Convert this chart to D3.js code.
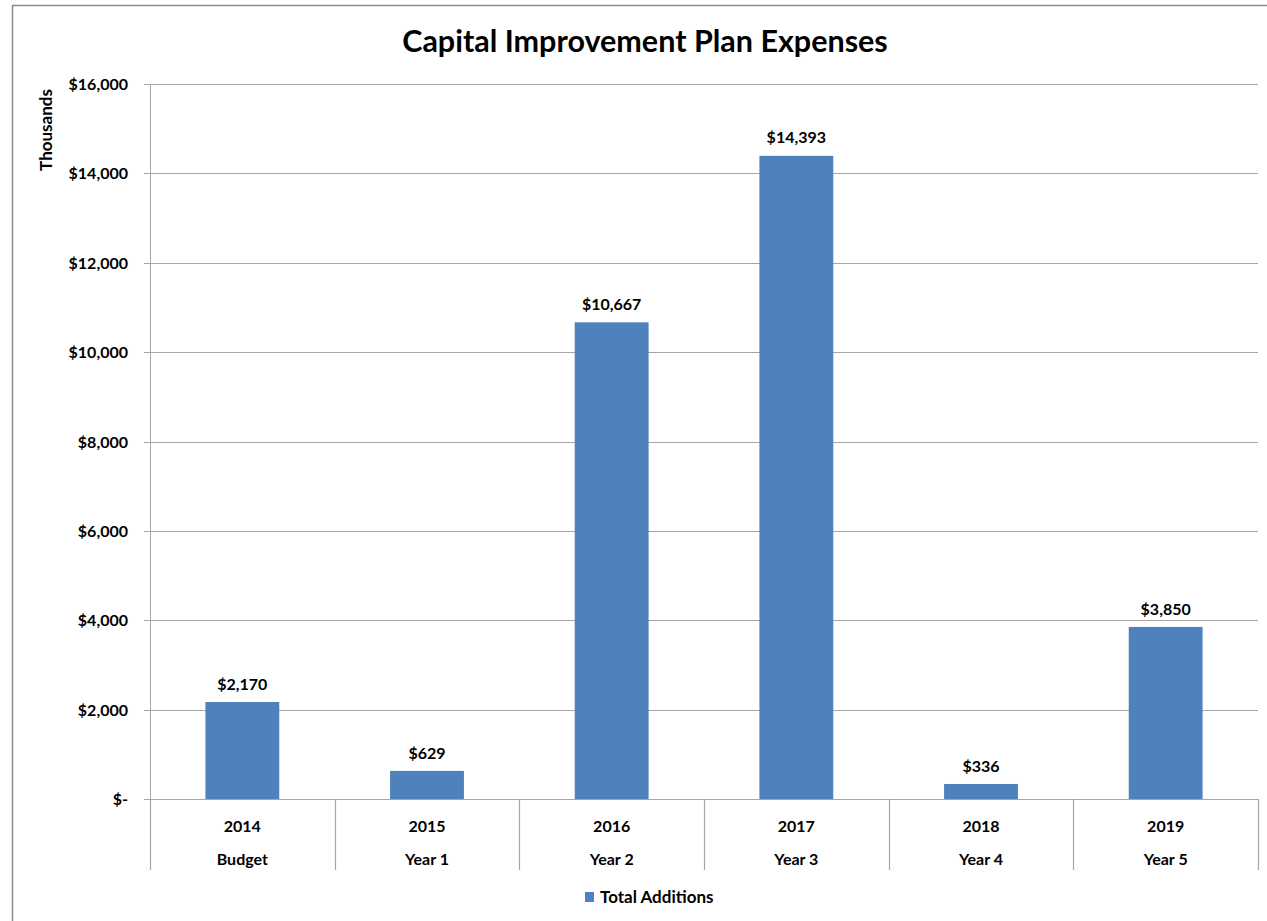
<!DOCTYPE html>
<html>
<head>
<meta charset="utf-8">
<script src="https://cdn.jsdelivr.net/npm/d3@7"></script>
<style>
  html, body { margin: 0; padding: 0; background: #fff; }
  svg { display: block; }
  text { font-family: Lato, "Open Sans", sans-serif; fill: #000; }
</style>
</head>
<body>
<svg id="chart" width="1267" height="921"></svg>
<script>
// Capital plan data (thousands of dollars)
const years = ["2014", "2015", "2016", "2017", "2018", "2019"];
const phases = ["Budget", "Year 1", "Year 2", "Year 3", "Year 4", "Year 5"];
const totalAdditions = [2170, 629, 10667, 14393, 336, 3850];
const yTicks = [0, 2000, 4000, 6000, 8000, 10000, 12000, 14000, 16000];
const seriesName = "Total Additions";
const chartTitle = "Capital Improvement Plan Expenses";
const axisTitle = "Thousands";

const svg = d3.select("#chart");
const barColor = "#4f81bd";
const gridColor = "#a6a6a6";
const labelSize = 16;

const plot = { left: 150, right: 1258, top: 84, bottom: 799 };

const x = d3.scaleBand()
  .domain(years)
  .range([plot.left, plot.right])
  .paddingInner(0.6)
  .paddingOuter(0.3);

const xCat = d3.scaleBand().domain(years).range([plot.left, plot.right]);

const y = d3.scaleLinear().domain([0, 16000]).range([plot.bottom, plot.top]);

const money = d3.format("$,");
const tickFmt = v => v === 0 ? "$-" : money(v);

// outer chart frame
svg.append("path")
  .attr("d", "M12.5,921 L12.5,5.5 L1267,5.5")
  .attr("fill", "none")
  .attr("stroke", "#8c8c8c")
  .attr("stroke-width", 1.5);

// title
svg.append("text")
  .attr("x", 645).attr("y", 52)
  .attr("text-anchor", "middle")
  .attr("font-size", 30.5)
  .attr("font-weight", 700)
  .text(chartTitle);

// horizontal gridlines
svg.append("g")
  .selectAll("line")
  .data(yTicks)
  .join("line")
  .attr("x1", plot.left).attr("x2", plot.right)
  .attr("y1", d => Math.round(y(d)) + 0.5).attr("y2", d => Math.round(y(d)) + 0.5)
  .attr("stroke", gridColor)
  .attr("stroke-width", 1.2);

// y axis with tick marks and labels
const yAxis = d3.axisLeft(y)
  .tickValues(yTicks)
  .tickFormat(tickFmt)
  .tickSize(6)
  .tickPadding(16);

const gy = svg.append("g")
  .attr("transform", `translate(${plot.left},0)`)
  .call(yAxis);
gy.select(".domain").attr("stroke", gridColor);
gy.selectAll(".tick line").attr("stroke", gridColor);
gy.selectAll(".tick").attr("transform", d => `translate(0,${Math.round(y(d)) + 0.5})`);
gy.selectAll(".tick text")
  .attr("font-size", labelSize)
  .attr("font-weight", 700)
  .attr("font-family", "Lato, sans-serif")
  .attr("fill", "#000");

// y axis title
svg.append("text")
  .attr("transform", "translate(52,130) rotate(-90)")
  .attr("text-anchor", "middle")
  .attr("font-size", 17)
  .attr("font-weight", 700)
  .text(axisTitle);

// category separators below the axis
const seps = [plot.left].concat(years.map(d => xCat(d) + xCat.bandwidth()));
svg.append("g")
  .selectAll("line")
  .data(seps)
  .join("line")
  .attr("x1", d => Math.round(d) + 0.5).attr("x2", d => Math.round(d) + 0.5)
  .attr("y1", plot.bottom).attr("y2", 870)
  .attr("stroke", gridColor)
  .attr("stroke-width", 1.2);

// bars
svg.append("g")
  .selectAll("rect")
  .data(totalAdditions)
  .join("rect")
  .attr("x", (d, i) => x(years[i]))
  .attr("width", x.bandwidth())
  .attr("y", d => y(d))
  .attr("height", d => y(0) - y(d))
  .attr("fill", barColor);

// value labels with white backing
const labels = svg.append("g")
  .selectAll("g")
  .data(totalAdditions)
  .join("g")
  .attr("transform", (d, i) => `translate(${x(years[i]) + x.bandwidth() / 2},${y(d) - 18})`);

labels.append("text")
  .attr("text-anchor", "middle")
  .attr("dy", "0.35em")
  .attr("font-size", labelSize)
  .attr("font-weight", 700)
  .text(d => money(d));

labels.each(function () {
  const g = d3.select(this);
  const bb = g.select("text").node().getBBox();
  g.insert("rect", "text")
    .attr("x", bb.x - 4).attr("y", bb.y - 1)
    .attr("width", bb.width + 8).attr("height", bb.height + 2)
    .attr("fill", "#fff");
});

// category labels (two rows)
const cats = svg.append("g")
  .selectAll("g")
  .data(years)
  .join("g")
  .attr("transform", d => `translate(${xCat(d) + xCat.bandwidth() / 2},0)`);

cats.append("text")
  .attr("y", 832)
  .attr("text-anchor", "middle")
  .attr("font-size", labelSize)
  .attr("font-weight", 700)
  .text(d => d);

cats.append("text")
  .attr("y", 865)
  .attr("text-anchor", "middle")
  .attr("font-size", labelSize)
  .attr("font-weight", 700)
  .text((d, i) => phases[i]);

// legend
const legend = svg.append("g").attr("transform", "translate(585,892)");
legend.append("rect")
  .attr("width", 9).attr("height", 10)
  .attr("fill", barColor);
legend.append("text")
  .attr("x", 15).attr("y", 10.5)
  .attr("font-size", 17)
  .attr("font-weight", 700)
  .text(seriesName);
</script>
</body>
</html>
